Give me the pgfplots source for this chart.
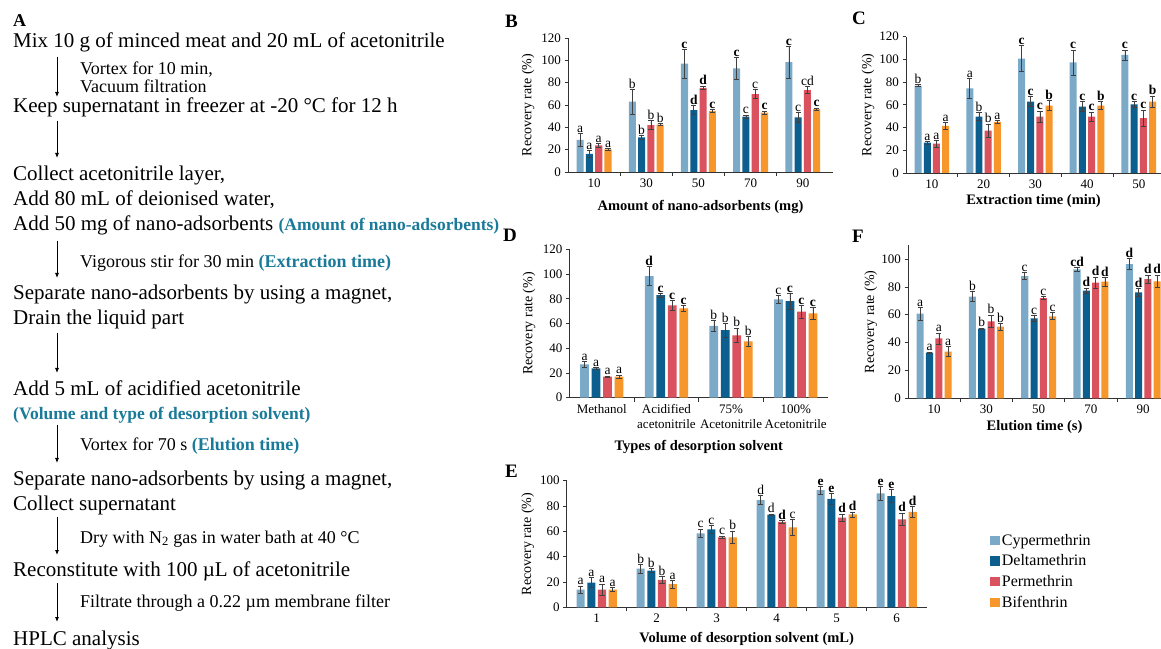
\documentclass[border=0pt]{standalone}
\usepackage{pgfplots}
\pgfplotsset{compat=1.18}
\usepackage{pgfplotstable}
\usepackage{fontspec}
\setmainfont{Liberation Serif}
\usetikzlibrary{arrows.meta}
\definecolor{cyp}{HTML}{7AAAC8}
\definecolor{del}{HTML}{0B5E8E}
\definecolor{per}{HTML}{D9525E}
\definecolor{bif}{HTML}{F7962A}
\definecolor{note}{HTML}{1A7A9A}
\newcommand{\bb}[1]{\textbf{#1}}
\newcommand{\fs}[1]{\fontsize{#1}{#1}\selectfont}

\pgfplotstableread{
x c ce d de p pe b be lc ld lp lb
1 28.8 5.5 16.3 3 23.8 1.5 20.2 1 a a a a
2 63 11 31 2 42 4 42.5 1 b b b b
3 97 13 55.5 4 75.4 1.5 54.6 1.5 \bb{c} \bb{d} \bb{d} \bb{c}
4 92.7 10 49.6 1.5 69.8 4 53.2 1.5 \bb{c} c c \bb{c}
5 98.3 14 49 4.5 73.4 3 56.4 1 \bb{c} c cd \bb{c}
}\tabB
\pgfplotstableread{
x c ce d de p pe b be lc ld lp lb
1 76.9 1 26.7 1 25.8 3 41.4 3 b a a a
2 74.5 9 49.6 3.5 37.3 6 44.9 1.5 a b b a
3 100.6 11.5 62.8 4.5 49.6 5 59.3 4.5 \bb{c} \bb{c} \bb{c} \bb{b}
4 97.4 11 58.4 4.5 49.6 4 59.3 3.5 \bb{c} \bb{c} \bb{c} \bb{b}
5 103.9 4.5 60.4 2.5 48.4 7 62.8 5 \bb{c} \bb{c} \bb{c} \bb{b}
}\tabC
\pgfplotstableread{
x c ce d de p pe b be lc ld lp lb
1 27 2.5 23.7 1 17 0.5 17 1.5 a a a a
2 98.4 7.5 83 1.5 74.7 4 72.3 2.5 \bb{d} \bb{c} \bb{c} \bb{c}
3 58 4.5 54.7 5.5 50.4 6 45.6 4 b b b b
4 79.6 3 78 6.5 69.6 5 68.2 4.5 c \bb{c} \bb{c} \bb{c}
}\tabD
\pgfplotstableread{
x c ce d de p pe b be lc ld lp lb
1 60.8 4.5 32.8 0.5 43 4 33.5 3.5 a a a a
2 73 3.5 50 0.5 55.3 4.5 51.4 2.5 b b b b
3 87.8 2.5 57.4 2 72 1 58.9 2.5 c c c c
4 92.6 1.5 77.3 2 83 4 83.7 3 \bb{cd} \bb{d} \bb{d} \bb{d}
5 96.4 4 76 3 85.6 3 84 4.5 \bb{d} \bb{d} \bb{d} \bb{d}
}\tabF
\pgfplotstableread{
x c ce d de p pe b be lc ld lp lb
1 13.9 3 19.5 4 14 4.5 14 1.5 a a a a
2 30.5 3.5 29 1.5 21.6 3 18.4 3 b b b a
3 58.4 3.5 61.6 3 55.3 1 55.3 5 c c c b
4 84.7 3.5 73.2 0.5 67.4 1 63.2 6 d d \bb{d} c
5 92.6 3 85.7 4 70.8 3 73.4 2 \bb{e} \bb{e} \bb{d} \bb{d}
6 89.9 5.5 87.9 5 69.5 5 75.3 4.5 \bb{e} \bb{e} \bb{d} \bb{d}
}\tabE

\pgfplotsset{
  panel/.style={
    scale only axis, axis lines=left,
    axis line style={-, line width=0.7pt, black!80},
    tick align=outside, major tick length=3.5pt, minor tick length=4pt,
    tick style={black!80, line width=0.7pt},
    major x tick style={draw=none},
    ticklabel style={font=\fs{13}},
    /pgf/number format/assume math mode=true,
    ymin=0, xmin=0.5,
    ylabel={Recovery rate (\%)},
    ylabel style={font=\fs{14}, anchor=center},
    xlabel style={font=\fs{14.5}\bfseries, at={(axis description cs:0.5,0)}, anchor=base},
    clip=false,
  },
  mybar/.style={ybar, bar width=0.135, bar shift=0pt, draw=none, fill=#1,
    /pgfplots/error bars/y dir=both, /pgfplots/error bars/y explicit,
    /pgfplots/error bars/error bar style={line width=0.6pt, black!75},
    /pgfplots/error bars/error mark options={rotate=90, mark size=2.6pt, line width=0.6pt, black!75},
    legend image code/.code={\fill[fill=#1, draw=none] (0pt,-4.8pt) rectangle (9.6pt,4.8pt);}},
  mylet/.style={draw=none, forget plot, nodes near coords, point meta=explicit symbolic,
    nodes near coords style={font=\fs{13.5}, inner sep=0.8pt, anchor=south, text=black}},
}
\newcommand{\groupbars}[1]{%
  \addplot[mybar=cyp] table[x expr=\thisrow{x}-0.267, y=c, y error=ce]{#1};
  \addplot[mybar=del] table[x expr=\thisrow{x}-0.089, y=d, y error=de]{#1};
  \addplot[mybar=per] table[x expr=\thisrow{x}+0.089, y=p, y error=pe]{#1};
  \addplot[mybar=bif] table[x expr=\thisrow{x}+0.267, y=b, y error=be]{#1};
  \addplot[mylet] table[x expr=\thisrow{x}-0.267, y expr=\thisrow{c}+\thisrow{ce}, meta=lc]{#1};
  \addplot[mylet] table[x expr=\thisrow{x}-0.089, y expr=\thisrow{d}+\thisrow{de}, meta=ld]{#1};
  \addplot[mylet] table[x expr=\thisrow{x}+0.089, y expr=\thisrow{p}+\thisrow{pe}, meta=lp]{#1};
  \addplot[mylet] table[x expr=\thisrow{x}+0.267, y expr=\thisrow{b}+\thisrow{be}, meta=lb]{#1};
}

\begin{document}
\begin{tikzpicture}
\useasboundingbox (0pt,0pt) rectangle (1161pt,648pt);
\fill[white] (0pt,0pt) rectangle (1161pt,648pt);

% ---------- Panel A: flowchart ----------
\begin{scope}[every node/.style={anchor=base west, inner sep=0pt}]
\node at (13pt,621pt) {\fs{18}\bfseries A};
\node at (13pt,600.3pt) {\fs{21}Mix 10 g of minced meat and 20 mL of acetonitrile};
\node at (80pt,573pt) {\fs{18}Vortex for 10 min,};
\node at (80pt,555pt) {\fs{18}Vacuum filtration};
\node at (13pt,535pt) {\fs{21}Keep supernatant in freezer at -20 °C for 12 h};
\node at (13pt,467pt) {\fs{21}Collect acetonitrile layer,};
\node at (13pt,442pt) {\fs{21}Add 80 mL of deionised water,};
\node at (13pt,417pt) {\fs{21}Add 50 mg of nano-adsorbents {\fs{17.5}\bfseries\color{note}(Amount of nano-adsorbents)}};
\node at (80pt,380pt) {\fs{18}Vigorous stir for 30 min {\bfseries\color{note}(Extraction time)}};
\node at (13pt,348pt) {\fs{21}Separate nano-adsorbents by using a magnet,};
\node at (13pt,323pt) {\fs{21}Drain the liquid part};
\node at (13pt,252pt) {\fs{21}Add 5 mL of acidified acetonitrile};
\node at (13pt,228pt) {\fs{17.5}\bfseries\color{note}(Volume and type of desorption solvent)};
\node at (80pt,197pt) {\fs{18}Vortex for 70 s {\bfseries\color{note}(Elution time)}};
\node at (13pt,163pt) {\fs{21}Separate nano-adsorbents by using a magnet,};
\node at (13pt,138pt) {\fs{21}Collect supernatant};
\node at (80pt,105pt) {\fs{18}Dry with N\textsubscript{2} gas in water bath at 40 °C};
\node at (13pt,72pt) {\fs{21}Reconstitute with 100 µL of acetonitrile};
\node at (80pt,41pt) {\fs{18}Filtrate through a 0.22 µm membrane filter};
\node at (13pt,3pt) {\fs{21}HPLC analysis};
\end{scope}
\begin{scope}[line width=0.8pt, -{Latex[length=5pt,width=4pt]}]
\draw (57pt,591pt) -- (57pt,551pt);
\draw (57pt,527pt) -- (57pt,490pt);
\draw (57pt,407pt) -- (57pt,370pt);
\draw (57pt,315pt) -- (57pt,275pt);
\draw (57pt,223pt) -- (57pt,185pt);
\draw (57pt,131pt) -- (57pt,93pt);
\draw (57pt,65pt) -- (57pt,26pt);
\end{scope}

% ---------- panel letters ----------
\begin{scope}[every node/.style={anchor=base west, inner sep=0pt, font=\fs{19}\bfseries}]
\node at (505pt,620pt) {B};
\node at (852pt,623pt) {C};
\node at (503pt,406pt) {D};
\node at (852pt,405pt) {F};
\node at (505pt,171pt) {E};
\end{scope}

% ---------- B ----------
\begin{axis}[panel, at={(568pt,476pt)}, anchor=south west,
  width=265pt, height=134pt, xmax=5.58, ymax=120, ytick={0,20,...,120},
  xtick={1,...,5}, xticklabels={10,30,50,70,90}, minor xtick={1.5,2.5,3.5,4.5},
  xlabel={Amount of nano-adsorbents (mg)}, xlabel style={yshift=-39pt},
  ylabel style={at={(axis description cs:-0.151,0.5)}}]
\groupbars{\tabB}
\end{axis}

% ---------- C ----------
\begin{axis}[panel, at={(906pt,475pt)}, anchor=south west,
  width=255pt, height=136.3pt, xmax=5.43, ymax=120, ytick={0,20,...,120},
  xtick={1,...,5}, xticklabels={10,20,30,40,50}, minor xtick={1.5,2.5,3.5,4.5},
  xlabel={Extraction time (min)}, xlabel style={yshift=-32pt},
  ylabel style={at={(axis description cs:-0.149,0.5)}}]
\groupbars{\tabC}
\end{axis}

% ---------- D ----------
\begin{axis}[panel, at={(569.5pt,250.3pt)}, anchor=south west,
  width=258.5pt, height=148.4pt, xmax=4.5, ymax=120, ytick={0,20,...,120},
  xtick={1,...,4}, xticklabels={Methanol,{Acidified\\acetonitrile},{75\%\\Acetonitrile},{100\%\\Acetonitrile}},
  xticklabel style={align=center, font=\fontsize{13}{15}\selectfont},
  minor xtick={1.5,2.5,3.5},
  xlabel={Types of desorption solvent}, xlabel style={yshift=-53pt},
  ylabel style={at={(axis description cs:-0.157,0.5)}}]
\groupbars{\tabD}
\end{axis}

% ---------- F ----------
\begin{axis}[panel, at={(908pt,249.7pt)}, anchor=south west,
  width=253pt, height=153.2pt, xmax=5.34, ymax=110, ytick={0,20,...,100},
  xtick={1,...,5}, xticklabels={10,30,50,70,90}, minor xtick={1.5,2.5,3.5,4.5},
  xlabel={Elution time (s)}, xlabel style={yshift=-32pt},
  ylabel style={at={(axis description cs:-0.147,0.5)}}]
\groupbars{\tabF}
\end{axis}

% ---------- E ----------
\begin{axis}[panel, at={(566.7pt,40.7pt)}, anchor=south west,
  width=360pt, height=126.6pt, xmax=6.5, ymax=100, ytick={0,20,...,100},
  xtick={1,...,6}, xticklabels={1,2,3,4,5,6}, minor xtick={1.5,2.5,3.5,4.5,5.5},
  xlabel={Volume of desorption solvent (mL)}, xlabel style={yshift=-35pt},
  ylabel style={at={(axis description cs:-0.108,0.5)}},
  legend entries={Cypermethrin,Deltamethrin,Permethrin,Bifenthrin},
  legend cell align=left,
  legend style={at={(1.176,0.595)}, anchor=north west, draw=none, fill=none,
    font=\fs{16}, row sep=4pt, inner sep=0pt}]
\groupbars{\tabE}
\end{axis}
\end{tikzpicture}
\end{document}
